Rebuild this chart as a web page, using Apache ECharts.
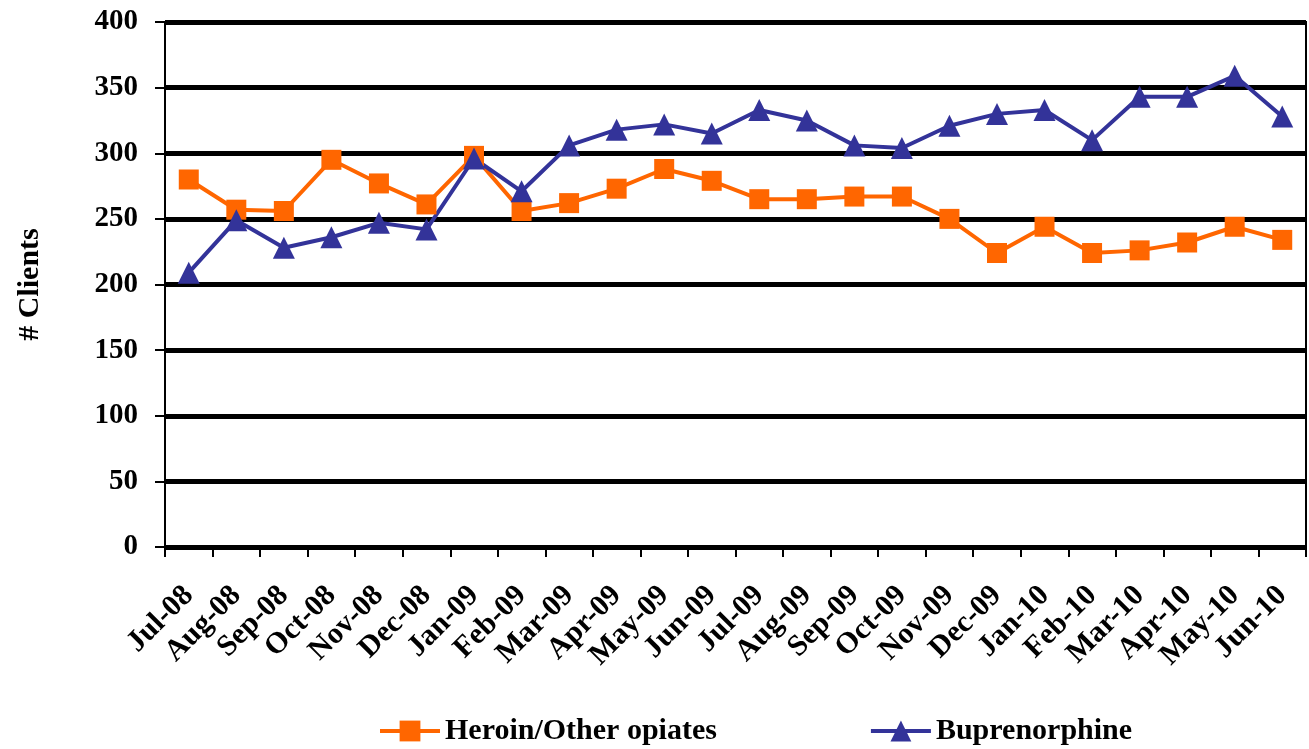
<!DOCTYPE html>
<html>
<head>
<meta charset="utf-8">
<script src="https://cdn.jsdelivr.net/npm/echarts@6/dist/echarts.min.js"></script>
<style>
  html, body { margin: 0; padding: 0; background: #fff; }
  #chart { width: 1309px; height: 749px; }
</style>
</head>
<body>
<div id="chart"></div>
<script>
// months on the x axis
var months = ['Jul-08', 'Aug-08', 'Sep-08', 'Oct-08', 'Nov-08', 'Dec-08',
    'Jan-09', 'Feb-09', 'Mar-09', 'Apr-09', 'May-09', 'Jun-09',
    'Jul-09', 'Aug-09', 'Sep-09', 'Oct-09', 'Nov-09', 'Dec-09',
    'Jan-10', 'Feb-10', 'Mar-10', 'Apr-10', 'May-10', 'Jun-10'];

// clients per month
var heroin = [280, 257, 256, 295, 277, 261, 298, 256, 262, 273, 288, 279,
    265, 265, 267, 267, 250, 224, 244, 224, 226, 232, 244, 234];
var bupe = [209, 249, 228, 236, 247, 242, 296, 271, 306, 318, 322, 315,
    333, 325, 306, 304, 321, 330, 333, 310, 343, 343, 359, 328];

var yTicks = [0, 50, 100, 150, 200, 250, 300, 350, 400];

var serif = '"Liberation Serif", "Times New Roman", serif';

var myChart = echarts.init(document.getElementById('chart'));

var option = {
    animation: false,
    backgroundColor: '#fff',
    grid: {
        left: 165,
        right: 3,
        top: 22,
        bottom: 202,
        outerBoundsMode: 'none',
        containLabel: false,
        show: true,
        borderColor: '#000',
        borderWidth: 2
    },
    legend: {
        bottom: -2,
        left: 373,
        itemGap: 152,
        itemWidth: 60,
        itemHeight: 26,
        itemStyle: {},
        lineStyle: { width: 4 },
        textStyle: {
            fontFamily: serif,
            fontWeight: 'bold',
            fontSize: 30,
            color: '#000'
        },
        data: ['Heroin/Other opiates', 'Buprenorphine']
    },
    xAxis: {
        type: 'category',
        data: months,
        boundaryGap: true,
        axisLine: { lineStyle: { color: '#000', width: 2 } },
        axisTick: { show: true, length: 10, lineStyle: { color: '#000', width: 2 } },
        axisLabel: {
            rotate: 45,
            margin: 44,
            interval: 0,
            fontFamily: serif,
            fontWeight: 'bold',
            fontSize: 30,
            color: '#000'
        },
        splitLine: { show: false }
    },
    yAxis: {
        type: 'value',
        min: yTicks[0],
        max: yTicks[yTicks.length - 1],
        interval: 50,
        name: '# Clients',
        nameLocation: 'middle',
        nameGap: 120,
        nameTextStyle: {
            fontFamily: serif,
            fontWeight: 'bold',
            fontSize: 30,
            color: '#000'
        },
        axisLine: { show: true, lineStyle: { color: '#000', width: 2 } },
        axisTick: { show: true, length: 10, inside: false, lineStyle: { color: '#000', width: 2 } },
        axisLabel: {
            margin: 27,
            fontFamily: serif,
            fontWeight: 'bold',
            fontSize: 29,
            color: '#000'
        },
        splitLine: { show: true, lineStyle: { color: '#000', width: 5 } }
    },
    series: [
        {
            name: 'Heroin/Other opiates',
            type: 'line',
            data: heroin,
            symbol: 'rect',
            symbolSize: 20,
            itemStyle: { color: '#ff6600' },
            lineStyle: { color: '#ff6600', width: 4 }
        },
        {
            name: 'Buprenorphine',
            type: 'line',
            data: bupe,
            symbol: 'triangle',
            symbolSize: 22,
            itemStyle: { color: '#333399' },
            lineStyle: { color: '#333399', width: 4 }
        }
    ]
};

myChart.setOption(option);
window.addEventListener('resize', function () {
    myChart.resize();
});
</script>
</body>
</html>
